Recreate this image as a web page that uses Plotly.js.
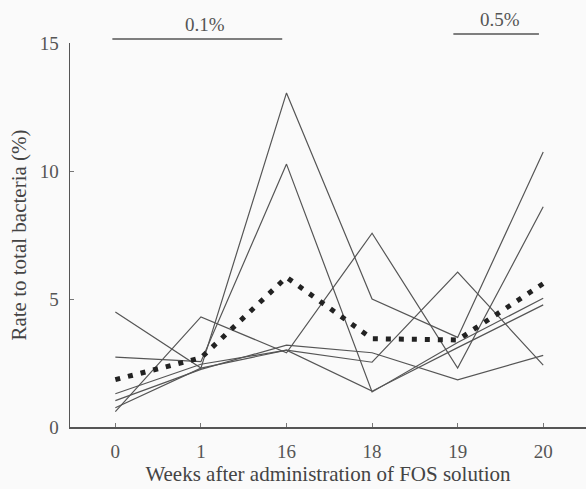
<!DOCTYPE html>
<html>
<head>
<meta charset="utf-8">
<script src="https://cdn.plot.ly/plotly-3.0.1.min.js"></script>
<style>html,body{margin:0;padding:0;background:#fafafa;}#chart{width:586px;height:489px;}</style>
</head>
<body>
<div id="chart"></div>
<script>
const weeks = ['0', '1', '16', '18', '19', '20'];
const subjectA = [4.49, 2.3, 13.05, 5.0, 3.5, 10.74];
const subjectB = [0.6, 4.3, 2.9, 7.57, 2.3, 8.6];
const subjectC = [1.3, 2.45, 3.0, 2.53, 6.05, 2.42];
const subjectD = [1.03, 2.25, 3.2, 2.9, 1.84, 2.8];
const subjectE = [2.73, 2.55, 10.27, 1.37, 3.3, 5.03];
const subjectF = [0.75, 2.3, 3.0, 1.4, 3.1, 4.77];
const meanValues = [1.85, 2.7, 5.85, 3.45, 3.4, 5.6];
const periodLabels = ['0.1%', '0.5%'];

const subjects = [subjectA, subjectB, subjectC, subjectD, subjectE, subjectF];
const serif = 'Liberation Serif, Times New Roman, serif';
const traces = subjects.map(vals => ({
  x: weeks, y: vals, type: 'scatter', mode: 'lines',
  line: {color: '#555', width: 1.2}, hoverinfo: 'skip'
}));
traces.push({
  x: weeks, y: meanValues, type: 'scatter', mode: 'lines',
  line: {color: '#222', width: 5, dash: '5px,8px'}
});

const layout = {
  width: 586, height: 489,
  margin: {l: 70, r: 0, t: 43, b: 62},
  paper_bgcolor: '#fafafa', plot_bgcolor: '#fafafa',
  showlegend: false,
  font: {family: serif, color: '#555'},
  xaxis: {
    type: 'category', categoryarray: weeks,
    range: [-0.53, 5.5],
    showgrid: false, zeroline: false,
    showline: true, linecolor: '#555', linewidth: 1.5,
    ticks: 'inside', ticklen: 4, tickcolor: '#777', tickwidth: 1,
    tickfont: {family: serif, size: 19, color: '#555'},
    ticklabelstandoff: 7,
    title: {text: 'Weeks after administration of FOS solution', font: {family: serif, size: 21, color: '#444'}, standoff: 0}
  },
  yaxis: {
    range: [0, 15], tickvals: [0, 5, 10, 15],
    showgrid: false, zeroline: false,
    showline: true, linecolor: '#555', linewidth: 1.5,
    ticks: 'inside', ticklen: 4, tickcolor: '#777', tickwidth: 1,
    tickfont: {family: serif, size: 19, color: '#555'},
    ticklabelstandoff: 6,
    title: {text: 'Rate to total bacteria (%)', font: {family: serif, size: 21, color: '#444'}, standoff: 7}
  },
  shapes: [
    {type: 'line', xref: 'x', yref: 'paper', x0: -0.035, x1: 1.95, y0: 1.0104, y1: 1.0104, line: {color: '#555', width: 1.3}},
    {type: 'line', xref: 'x', yref: 'paper', x0: 3.95, x1: 4.95, y0: 1.0234, y1: 1.0234, line: {color: '#555', width: 1.3}}
  ],
  annotations: [
    {text: periodLabels[0], xref: 'x', yref: 'paper', x: 1.05, y: 1.049, yanchor: 'middle', showarrow: false, font: {family: serif, size: 19, color: '#555'}},
    {text: periodLabels[1], xref: 'x', yref: 'paper', x: 4.5, y: 1.06, yanchor: 'middle', showarrow: false, font: {family: serif, size: 19, color: '#555'}}
  ]
};

Plotly.newPlot('chart', traces, layout, {displayModeBar: false, staticPlot: true});
</script>
</body>
</html>
